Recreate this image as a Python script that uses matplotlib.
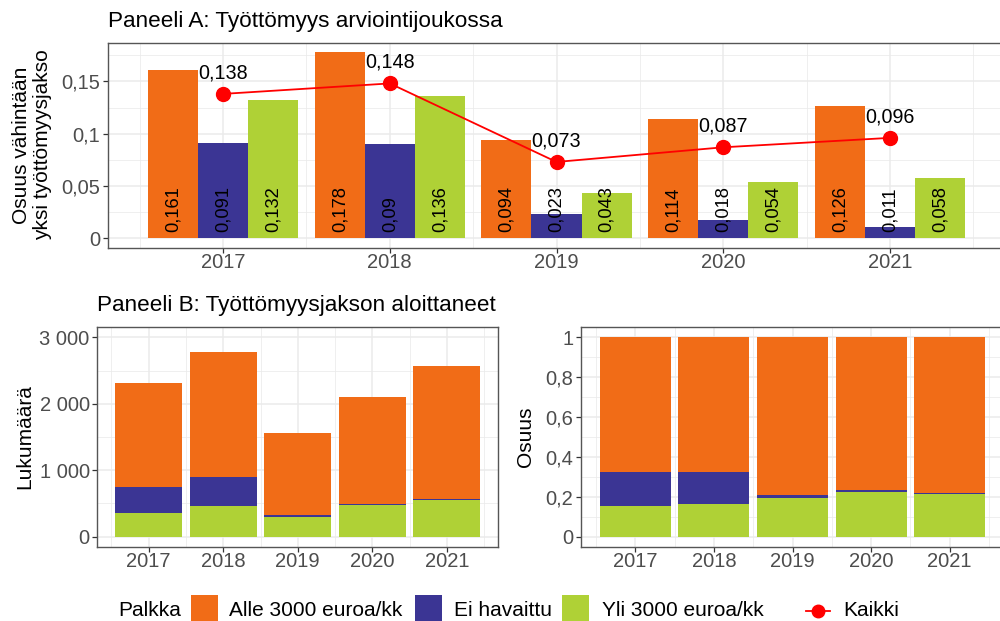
import numpy as np
import matplotlib.pyplot as plt
from matplotlib.patches import Rectangle
from matplotlib.lines import Line2D

plt.rcParams['font.family'] = ['Liberation Sans', 'DejaVu Sans']

# Data
years = [2017, 2018, 2019, 2020, 2021]
# Panel A: share with at least one unemployment spell
alle_a = [0.161, 0.178, 0.094, 0.114, 0.126]
ei_a = [0.091, 0.090, 0.023, 0.018, 0.011]
yli_a = [0.132, 0.136, 0.043, 0.054, 0.058]
kaikki_a = [0.138, 0.148, 0.073, 0.087, 0.096]
# Panel B: number of people starting an unemployment spell
alle_b = [1564, 1880, 1229, 1600, 1995]
ei_b = [395, 436, 25, 24, 20]
yli_b = [352, 457, 301, 472, 547]

labels = ['Alle 3000 euroa/kk', 'Ei havaittu', 'Yli 3000 euroa/kk']
colors = ['#F16C17', '#3B3594', '#AFD136']
RED = '#FF0000'
TICK_COL = '#4D4D4D'
GRID = '#EBEBEB'


def fmt(v):
    s = ('%.3f' % v).rstrip('0').rstrip('.')
    return s.replace('.', ',')


def style_axes(ax):
    for sp in ax.spines.values():
        sp.set_color('#555555')
        sp.set_linewidth(1.0)
    ax.set_axisbelow(True)
    ax.grid(True, which='major', color=GRID, linewidth=1.1)
    ax.grid(True, which='minor', color=GRID, linewidth=0.55)
    ax.tick_params(which='major', colors='#333333', labelcolor=TICK_COL,
                   labelsize=14.5, length=3.5, width=0.9)
    ax.tick_params(axis='x', pad=0.5)
    ax.tick_params(axis='y', pad=2)
    ax.tick_params(which='minor', length=0)
    ax.set_xticks(years)
    ax.set_xticks(np.arange(2016.5, 2022, 1), minor=True)
    ax.set_xlim(2017 - 0.69, 2021 + 0.69)


fig = plt.figure(figsize=(10, 6.21), dpi=100)
W, H = 1000, 621


def px_axes(left, top, right, bottom):
    return fig.add_axes([left / W, 1 - bottom / H, (right - left) / W, (bottom - top) / H])


def fx(px):
    return px / W


def fy(py):
    return 1 - py / H


# Panel A
axA = px_axes(108, 42.7, 1005, 247.7)
style_axes(axA)
x = np.array(years)
for i, (vals, c) in enumerate(zip([alle_a, ei_a, yli_a], colors)):
    xs = x + (i - 1) * 0.3
    axA.bar(xs, vals, width=0.3, color=c, linewidth=0)
    for xi, v in zip(xs, vals):
        axA.annotate(fmt(v), (xi, 0), xytext=(0, 4.5), textcoords='offset points',
                     rotation=90, ha='center', va='bottom', fontsize=13.2)
axA.plot(x, kaikki_a, color=RED, linewidth=1.3, marker='o', markersize=10)
for xi, v in zip(x, kaikki_a):
    axA.annotate(fmt(v), (xi, v), xytext=(0, 8.5), textcoords='offset points',
                 ha='center', va='bottom', fontsize=14.2)
axA.set_ylim(-0.0089, 0.1869)
axA.set_yticks([0, 0.05, 0.1, 0.15])
axA.set_yticklabels(['0', '0,05', '0,1', '0,15'])
axA.set_yticks([0.025, 0.075, 0.125, 0.175], minor=True)
fig.text(fx(108), fy(26.7), 'Paneeli A: Työttömyys arviointijoukossa',
         fontsize=16.2, ha='left', va='baseline')
fig.text(fx(32), fy(145), 'Osuus vähintään\nyksi työttömyysjakso', rotation=90,
         ha='center', va='center', multialignment='center', fontsize=15,
         linespacing=1.1)

# Panel B left: counts
axB1 = px_axes(97.3, 326.7, 498.3, 546.7)
style_axes(axB1)
bottom = np.zeros(len(years))
for vals, c in zip([yli_b, ei_b, alle_b], [colors[2], colors[1], colors[0]]):
    axB1.bar(x, vals, width=0.9, bottom=bottom, color=c, linewidth=0)
    bottom += np.array(vals)
axB1.set_ylim(-150, 3159)
axB1.set_yticks([0, 1000, 2000, 3000])
axB1.set_yticklabels(['0', '1 000', '2 000', '3 000'])
axB1.set_yticks([500, 1500, 2500], minor=True)
fig.text(fx(97), fy(310.5), 'Paneeli B: Työttömyysjakson aloittaneet',
         fontsize=16.2, ha='left', va='baseline')
fig.text(fx(25), fy(437), 'Lukumäärä', rotation=90, ha='center', va='center',
         fontsize=15)

# Panel B right: shares
axB2 = px_axes(581, 327.3, 1004, 546.7)
style_axes(axB2)
total = np.array(alle_b) + np.array(ei_b) + np.array(yli_b)
bottom = np.zeros(len(years))
for vals, c in zip([yli_b, ei_b, alle_b], [colors[2], colors[1], colors[0]]):
    share = np.array(vals) / total
    axB2.bar(x, share, width=0.9, bottom=bottom, color=c, linewidth=0)
    bottom += share
axB2.set_ylim(-0.05, 1.05)
axB2.set_yticks([0, 0.2, 0.4, 0.6, 0.8, 1.0])
axB2.set_yticklabels(['0', '0,2', '0,4', '0,6', '0,8', '1'])
axB2.set_yticks([0.1, 0.3, 0.5, 0.7, 0.9], minor=True)
fig.text(fx(526), fy(437), 'Osuus', rotation=90, ha='center', va='center',
         fontsize=15)

# Legend (placed by hand, like the ggplot guide at the bottom)
base = 616.5
fig.text(fx(118), fy(base), 'Palkka', fontsize=15, ha='left', va='baseline')
key_x = [191, 415, 562]
txt_x = [229, 454, 602]
for kx, tx, c, l in zip(key_x, txt_x, colors, labels):
    fig.add_artist(Rectangle((fx(kx), fy(623)), 27 / W, 28 / H, facecolor=c,
                             edgecolor='none', transform=fig.transFigure))
    fig.text(fx(tx), fy(base), l, fontsize=15, ha='left', va='baseline')
fig.add_artist(Line2D([fx(806), fx(830)], [fy(611), fy(611)], color=RED,
                      linewidth=1.3, transform=fig.transFigure))
fig.add_artist(Line2D([fx(818)], [fy(611)], color=RED, marker='o', markersize=9,
                      linestyle='none', transform=fig.transFigure))
fig.text(fx(843), fy(base), 'Kaikki', fontsize=15, ha='left', va='baseline')

fig.savefig('out.png', dpi=100)
